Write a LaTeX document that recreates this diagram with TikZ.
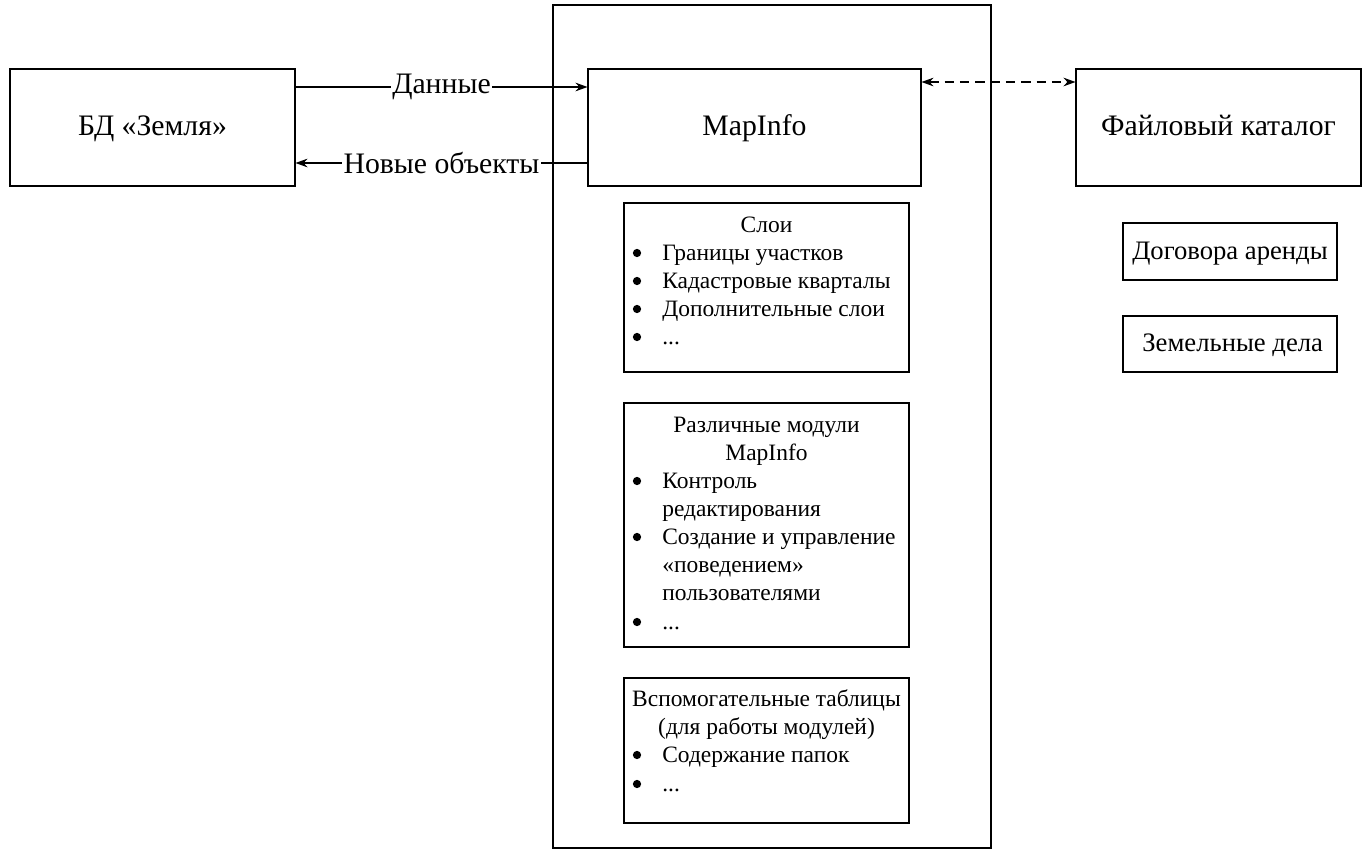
\documentclass[tikz,border=0pt]{standalone}
\usepackage{fontspec}
\setmainfont{Liberation Serif}
\usetikzlibrary{arrows.meta,fit}
\begin{document}
\begin{tikzpicture}[x=0.75pt,y=-0.75pt,
  box/.style={draw,line width=0.8pt,inner sep=0pt},
  big/.style={font=\fontsize{22.3pt}{26pt}\selectfont,inner sep=0pt},
  mid/.style={font=\fontsize{20pt}{24pt}\selectfont,inner sep=0pt},
  small/.style={font=\fontsize{17.6pt}{21pt}\selectfont,inner sep=0pt},
  boxtxt/.style={anchor=mid,yshift=-3.5pt},
  ttl/.style={small,anchor=mid,yshift=-3.5pt},
  lbl/.style={small,anchor=mid west,yshift=-3.5pt},
  bul/.style={circle,fill,inner sep=0pt,minimum size=6.2pt},
  arr/.style={line width=0.8pt,-{Stealth[length=9pt,width=6.5pt]}},
  darr/.style={line width=0.8pt,dash pattern=on 7pt off 4.5pt,{Stealth[length=9pt,width=6.5pt]}-{Stealth[length=9pt,width=6.5pt]}},
  elbl/.style={big,fill=white,inner sep=1pt}]
\useasboundingbox (0,0) rectangle (1372,860);
% containers and main boxes
\node[box,fit={(553,5) (991,848)}] (cont) {};
\node[box,fit={(10,69) (295,186)}] (bd) {};
\node[box,fit={(588,69) (921,186)}] (mi) {};
\node[box,fit={(1076,69) (1361,186)}] (fk) {};
\node[box,fit={(1123,223) (1337,280)}] (dog) {};
\node[box,fit={(1123,316) (1337,372)}] (zem) {};
\node[big,boxtxt] (bdt) at (bd.center) {БД «Земля»};
\node[big,boxtxt] (mit) at (mi.center) {MapInfo};
\node[big,boxtxt] (fkt) at (fk.center) {Файловый каталог};
\node[mid,boxtxt] (dogt) at (dog.center) {Договора аренды};
\node[mid,boxtxt] (zemt) at ([xshift=2pt]zem.center) {Земельные дела};
% inner boxes
\node[box,fit={(624,203) (909,372)}] (sloi) {};
\node[box,fit={(624,403) (909,647)}] (mod) {};
\node[box,fit={(624,678) (909,823)}] (vsp) {};
% Слои
\node[ttl] (s0) at (766.5,225) {Слои};
\node[bul] (sb1) at (637,253) {}; \node[lbl] (s1) at (662,253) {Границы участков};
\node[bul] (sb2) at (637,281) {}; \node[lbl] (s2) at (662,281) {Кадастровые кварталы};
\node[bul] (sb3) at (637,309) {}; \node[lbl] (s3) at (662,309) {Дополнительные слои};
\node[bul] (sb4) at (637,337) {}; \node[lbl] (s4) at (662,337) {...};
% Модули
\node[ttl] (m0) at (766.5,425) {Различные модули};
\node[ttl] (m0b) at (766.5,453) {MapInfo};
\node[bul] (mb1) at (637,481) {}; \node[lbl] (m1) at (662,481) {Контроль};
\node[lbl] (m1b) at (662,509) {редактирования};
\node[bul] (mb2) at (637,537) {}; \node[lbl] (m2) at (662,537) {Создание и управление};
\node[lbl] (m2b) at (662,565) {«поведением»};
\node[lbl] (m2c) at (662,593) {пользователями};
\node[bul] (mb3) at (637,622) {}; \node[lbl] (m3) at (662,622) {...};
% Вспомогательные
\node[ttl] (v0) at (766.5,699) {Вспомогательные таблицы};
\node[ttl] (v0b) at (766.5,727) {(для работы модулей)};
\node[bul] (vb1) at (637,755) {}; \node[lbl] (v1) at (662,755) {Содержание папок};
\node[bul] (vb2) at (637,784) {}; \node[lbl] (v2) at (662,784) {...};
% connectors
\coordinate (ya) at (0,87);
\coordinate (yb) at (0,163);
\coordinate (yc) at (0,82);
\draw[arr] (bd.east |- ya) -- (mi.west |- ya) node[midway,elbl] {Данные};
\draw[arr] (mi.west |- yb) -- (bd.east |- yb) node[midway,elbl] {Новые объекты};
\draw[darr] (mi.east |- yc) -- (fk.west |- yc);
\end{tikzpicture}
\end{document}
